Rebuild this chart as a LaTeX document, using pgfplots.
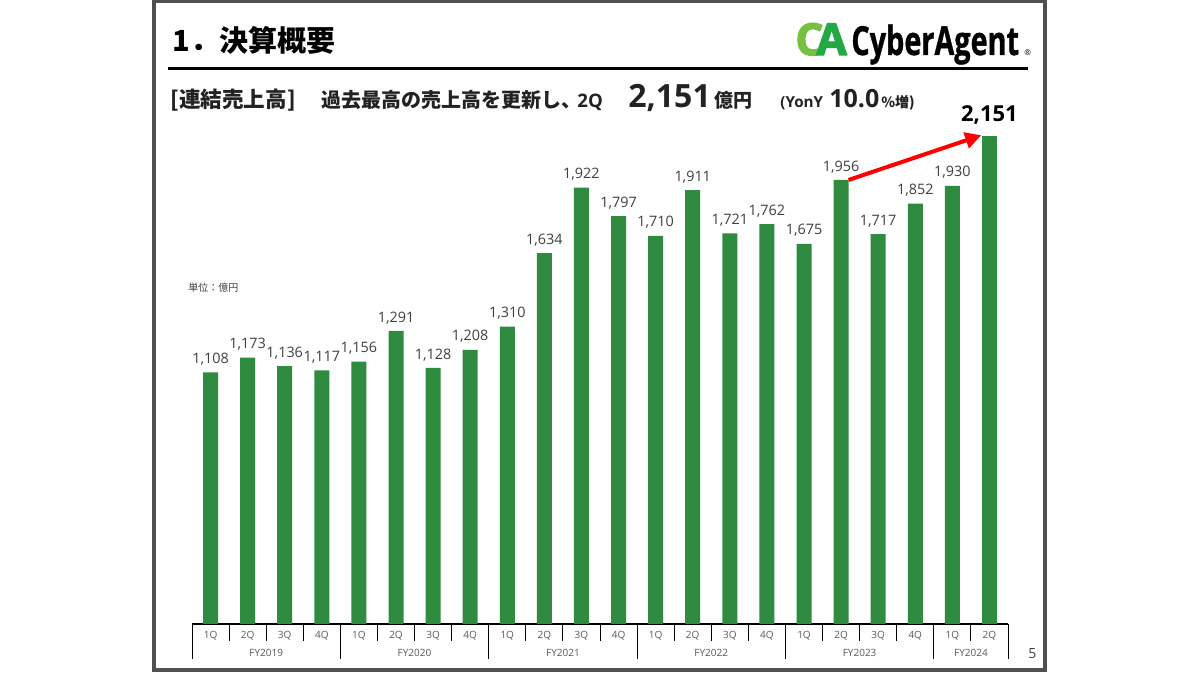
\documentclass[border=0pt]{standalone}
\usepackage{fontspec}
\usepackage{pgfplots}
\pgfplotsset{compat=1.18}
\usetikzlibrary{arrows.meta}
\setmainfont{Open Sans}
\newfontfamily\jp{Noto Sans CJK JP}
\newfontfamily\logoheavy{Open Sans}[BoldFeatures={FakeBold=3}]
\newfontfamily\logotext{Open Sans}[BoldFeatures={FakeBold=1}]
\definecolor{cagreen}{HTML}{2E8B3F}
\definecolor{calight}{HTML}{78C043}
\definecolor{cadark}{HTML}{22A845}
\definecolor{framegray}{HTML}{505050}
\definecolor{labgray}{HTML}{3F3F3F}
\definecolor{tickgray}{HTML}{595959}
\definecolor{subdark}{HTML}{222222}

% quarterly net sales, 100 million yen
\pgfplotstableread{
idx sales
0 1108
1 1173
2 1136
3 1117
4 1156
5 1291
6 1128
7 1208
8 1310
9 1634
10 1922
11 1797
12 1710
13 1911
14 1721
15 1762
16 1675
17 1956
18 1717
19 1852
20 1930
}\salesdata

\begin{document}
\begin{tikzpicture}
% slide furniture, coordinates in px of a 1200x675 slide (y up)
\begin{scope}[x=0.5pt,y=0.5pt]
\useasboundingbox (0,0) rectangle (1200,675);
\fill[white] (0,0) rectangle (1200,675);
\draw[framegray, line width=2pt] (154,5) rectangle (1045,673.5);
\node[anchor=base west, inner sep=0] at (172,675-52)
  {\jp\bfseries\fontsize{14.5}{16}\selectfont 1．決算概要};
\draw[black, line width=1.7pt] (168,675-68.5) -- (1028,675-68.5);
% logo
\node[anchor=base west, inner sep=0, text=calight] at (795,675-55)
  {\logoheavy\bfseries\fontsize{22}{24}\selectfont C};
\node[anchor=base west, inner sep=0, text=cadark] at (816,675-55)
  {\logoheavy\bfseries\fontsize{22}{24}\selectfont A};
\node[anchor=base west, inner sep=0] at (851,675-55)
  {\scalebox{0.72}[1]{\logotext\bfseries\fontsize{20}{24}\selectfont CyberAgent}};
\node[anchor=base west, inner sep=0] at (1024,675-56)
  {\fontsize{4}{5}\selectfont ®};
% subtitle
\node[anchor=base west, inner sep=0, text=subdark] at (170,675-108)
  {\jp\bfseries\fontsize{10.8}{12}\selectfont [連結売上高]};
\node[anchor=base west, inner sep=0, text=subdark] at (321,675-108)
  {\jp\bfseries\fontsize{10}{12}\selectfont 過去最高の売上高を更新し、};
\node[anchor=base west, inner sep=0, text=subdark] at (577,675-108)
  {\bfseries\fontsize{9.3}{11}\selectfont 2Q};
\node[anchor=base west, inner sep=0, text=subdark] at (628,675-108)
  {\bfseries\fontsize{16}{18}\selectfont 2,151};
\node[anchor=base west, inner sep=0, text=subdark] at (714,675-108)
  {\jp\bfseries\fontsize{9.5}{11}\selectfont 億円};
\node[anchor=base west, inner sep=0, text=subdark] at (780,675-108)
  {\bfseries\fontsize{7.6}{8}\selectfont (YonY};
\node[anchor=base west, inner sep=0, text=subdark] at (829,675-108)
  {\bfseries\fontsize{12.5}{14}\selectfont 10.0};
\node[anchor=base west, inner sep=0, text=subdark] at (881,675-108)
  {\jp\bfseries\fontsize{7}{8}\selectfont \%増)};
\node[anchor=base west, inner sep=0, text=labgray] at (188,675-292)
  {\jp\fontsize{5}{6}\selectfont 単位：億円};
\node[anchor=base west, inner sep=0, text=labgray] at (1028,675-658)
  {\fontsize{7}{8}\selectfont 5};
\end{scope}

\begin{axis}[
    at={(96pt,25.5pt)}, anchor=south west,
    scale only axis,
    width=408pt, height=249.7pt,
    xmin=-0.5, xmax=21.5,
    ymin=0, ymax=2200,
    axis x line*=bottom,
    hide y axis,
    x axis line style={black, line width=0.6pt},
    xtick={0,...,21},
    xticklabels={1Q,2Q,3Q,4Q,1Q,2Q,3Q,4Q,1Q,2Q,3Q,4Q,1Q,2Q,3Q,4Q,1Q,2Q,3Q,4Q,1Q,2Q},
    major tick length=0pt,
    xticklabel style={font=\fontsize{5}{6}\selectfont, text=tickgray, anchor=center, yshift=-6pt},
    extra x ticks={-0.5,0.5,...,21.5},
    extra x tick labels={},
    extra x tick style={major tick length=8.5pt, tick align=outside, tick style={black, line width=0.5pt}},
    clip=false,
    /pgf/number format/assume math mode=true,
]
\addplot[ybar, bar width=7.5pt, bar shift=0pt, fill=cagreen, draw=none,
    nodes near coords,
    every node near coord/.append style={font=\fontsize{7.2}{8}\selectfont, text=labgray}]
    table[x=idx, y=sales] {\salesdata};
\addplot[ybar, bar width=7.5pt, bar shift=0pt, fill=cagreen, draw=none,
    nodes near coords,
    every node near coord/.append style={font=\bfseries\fontsize{11}{13}\selectfont, text=black, yshift=2pt}]
    coordinates {(21,2151)};
% year-on-year arrow, 2Q FY2023 -> 2Q FY2024
\addplot[sharp plot, red, line width=2pt, -{Triangle[length=8pt,width=8pt]}]
    coordinates {(17.2,1956) (20.78,2153)};
% fiscal year groups
\draw[black, line width=0.5pt] (axis cs:-0.5,0) -- ++(0pt,-17.5pt);
\draw[black, line width=0.5pt] (axis cs:3.5,0) -- ++(0pt,-17.5pt);
\draw[black, line width=0.5pt] (axis cs:7.5,0) -- ++(0pt,-17.5pt);
\draw[black, line width=0.5pt] (axis cs:11.5,0) -- ++(0pt,-17.5pt);
\draw[black, line width=0.5pt] (axis cs:15.5,0) -- ++(0pt,-17.5pt);
\draw[black, line width=0.5pt] (axis cs:19.5,0) -- ++(0pt,-17.5pt);
\draw[black, line width=0.5pt] (axis cs:21.5,0) -- ++(0pt,-17.5pt);
\node[font=\fontsize{5}{6}\selectfont, text=tickgray, yshift=-14.5pt] at (axis cs:1.5,0) {FY2019};
\node[font=\fontsize{5}{6}\selectfont, text=tickgray, yshift=-14.5pt] at (axis cs:5.5,0) {FY2020};
\node[font=\fontsize{5}{6}\selectfont, text=tickgray, yshift=-14.5pt] at (axis cs:9.5,0) {FY2021};
\node[font=\fontsize{5}{6}\selectfont, text=tickgray, yshift=-14.5pt] at (axis cs:13.5,0) {FY2022};
\node[font=\fontsize{5}{6}\selectfont, text=tickgray, yshift=-14.5pt] at (axis cs:17.5,0) {FY2023};
\node[font=\fontsize{5}{6}\selectfont, text=tickgray, yshift=-14.5pt] at (axis cs:20.5,0) {FY2024};
\end{axis}
\end{tikzpicture}
\end{document}
